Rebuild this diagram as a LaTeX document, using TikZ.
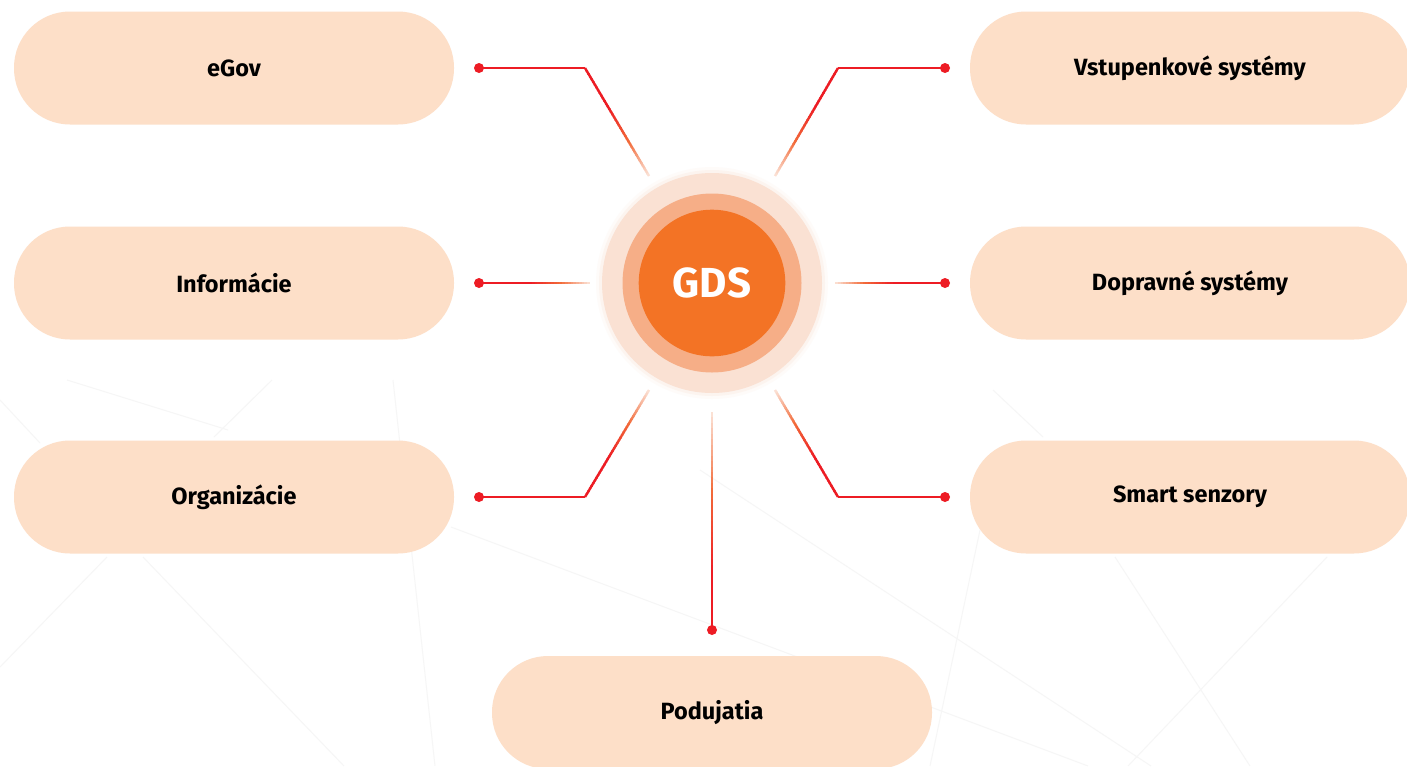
\documentclass[tikz,border=0pt]{standalone}
\usepackage{fontspec}
\setmainfont{Fira Sans}
\usetikzlibrary{calc}
\definecolor{pillc}{HTML}{FDDFC8}
\definecolor{lnred}{HTML}{ED1C24}
\definecolor{lnorange}{HTML}{F26B3A}
\definecolor{lnfade}{HTML}{FCE9DF}
\definecolor{gdsin}{HTML}{F37325}
\definecolor{gdsmid}{HTML}{F6AE87}
\definecolor{gdsout}{HTML}{FAE1D3}
\definecolor{bgline}{HTML}{F6F6F6}
\tikzset{
  pill/.style={rectangle, rounded corners=56pt, fill=pillc, draw=none,
    minimum width=440pt, minimum height=113pt, inner sep=0pt,
    font=\bfseries\fontsize{23.5}{26}\selectfont, text=black},
  dotn/.style={circle, fill=lnred, draw=none, minimum size=10pt, inner sep=0pt},
  redline/.style={draw=lnred, line width=2.4pt},
  bgl/.style={draw=bgline, line width=1pt}
}
% fading segment: #1 start (red), #2 end (faded), #3 fraction kept solid red
\newcommand\fadeseg[3]{%
  \foreach \i in {0,...,39}{%
    \pgfmathsetmacro\ta{\i/40}%
    \pgfmathsetmacro\tb{min(1,(\i+1.4)/40)}%
    \pgfmathsetmacro\uu{max(0,(\ta-#3)/(1-#3))}%
    \pgfmathsetmacro\pa{min(100,200*\uu)}%
    \pgfmathsetmacro\pb{max(0,200*\uu-100)}%
    \colorlet{tmpc}{lnorange!\pa!lnred}%
    \colorlet{segc}{lnfade!\pb!tmpc}%
    \draw[line width=2.4pt, segc] ($(#1)!\ta!(#2)$) -- ($(#1)!\tb!(#2)$);
  }%
}
\begin{document}
\begin{tikzpicture}[x=1pt,y=-1pt]
\useasboundingbox[fill=white] (0,0) rectangle (1407,766);

% faint background network lines
\draw[bgl] (0,400) -- (40,443);
\draw[bgl] (67,380) -- (228,430);
\draw[bgl] (272,380) -- (214,437);
\draw[bgl] (393,380) -- (435,766);
\draw[bgl] (143,557) -- (344,766);
\draw[bgl] (107,557) -- (0,667);
\draw[bgl] (451,527) -- (1088,766);
\draw[bgl] (700,470) -- (1151,766);
\draw[bgl] (980,530) -- (930,766);
\draw[bgl] (1115,557) -- (1250,766);
\draw[bgl] (1327,557) -- (1128,766);
\draw[bgl] (993,390) -- (1043,437);

% pills
\node[pill] (egov) at (234,68) {eGov};
\node[pill] (info) at (234,283) {Informácie};
\node[pill] (org)  at (234,497) {Organizácie};
\node[pill] (vst)  at (1190,68) {Vstupenkové systémy};
\node[pill] (dop)  at (1190,283) {Dopravné systémy};
\node[pill] (smart) at (1190,497) {Smart senzory};
\node[pill] (pod)  at (712,712.5) {Podujatia};

% center
\fill[gdsout, opacity=0.12] (712,283) circle (116);
\fill[gdsout, opacity=0.25] (712,283) circle (113);
\fill[gdsout] (712,283) circle (110);
\fill[gdsmid] (712,283) circle (89.5);
\node[circle, fill=gdsin, minimum size=146.6pt, inner sep=0pt, text=white,
  font=\bfseries\fontsize{42}{44}\selectfont] (gds) at (712,283) {GDS};

% connector points
\node[dotn] (d1) at (479,68) {};
\coordinate (k1) at (585,68);
\coordinate (e1) at (649,176);
\node[dotn] (d2) at (479,283) {};
\coordinate (e2) at (590,283);
\node[dotn] (d3) at (479,497) {};
\coordinate (k3) at (585,497);
\coordinate (e3) at (649,390);
\node[dotn] (d4) at (945,68) {};
\coordinate (k4) at (838,68);
\coordinate (e4) at (775,176);
\node[dotn] (d5) at (945,283) {};
\coordinate (e5) at (835,283);
\node[dotn] (d6) at (945,497) {};
\coordinate (k6) at (838,497);
\coordinate (e6) at (775,390);
\node[dotn] (d7) at (712,630) {};
\coordinate (e7) at (712,412);

% connectors
\draw[redline] (d1.center) -- (k1);
\fadeseg{k1}{e1}{0.35}
\draw[redline] (d3.center) -- (k3);
\fadeseg{k3}{e3}{0.35}
\draw[redline] (d4.center) -- (k4);
\fadeseg{k4}{e4}{0.35}
\draw[redline] (d6.center) -- (k6);
\fadeseg{k6}{e6}{0.35}
\fadeseg{d2.center}{e2}{0.45}
\fadeseg{d5.center}{e5}{0.45}
\fadeseg{d7.center}{e7}{0.25}
\end{tikzpicture}
\end{document}
